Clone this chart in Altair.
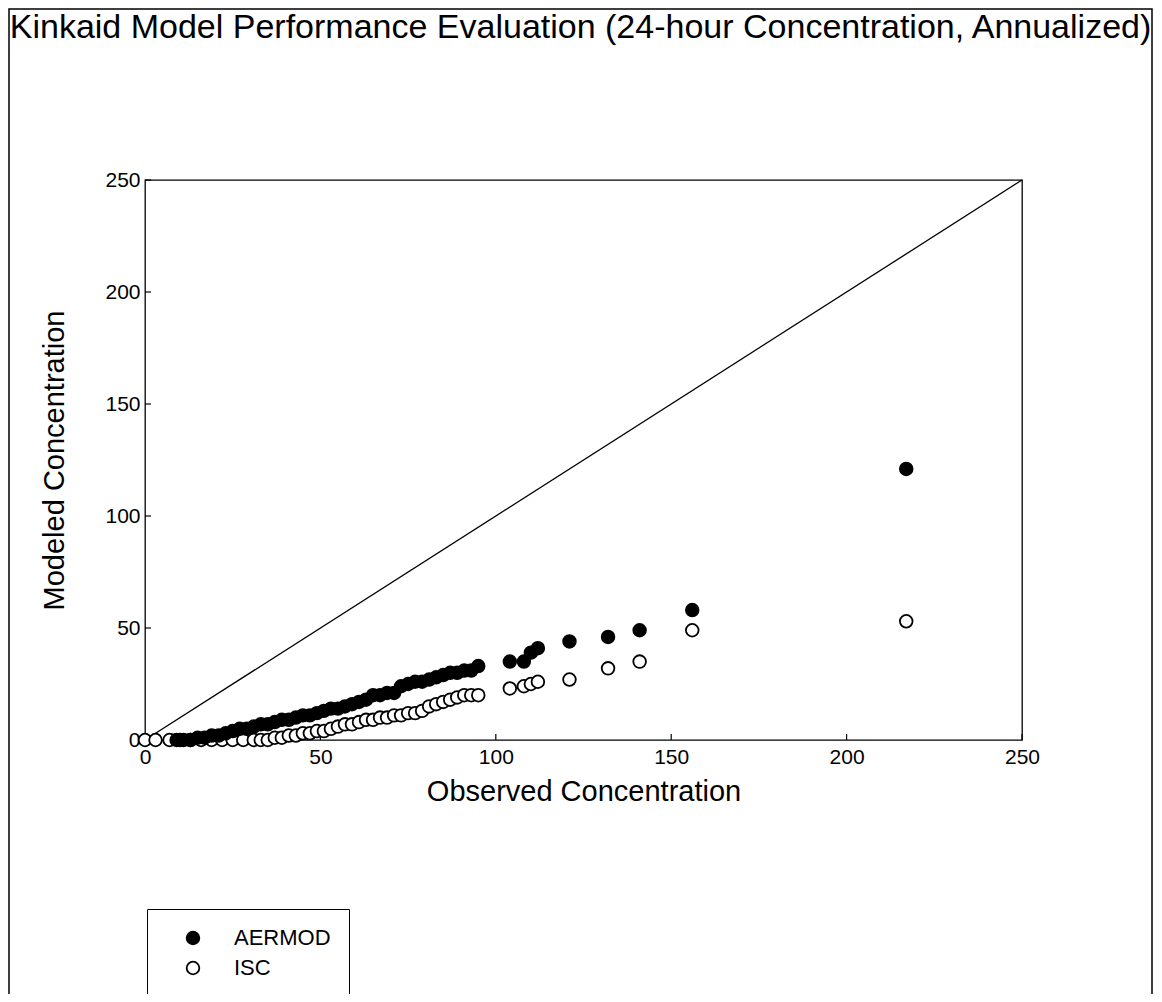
import altair as alt
import pandas as pd

# ---- data (ranked pairs) ----
aermod_obs = [9, 11, 13, 15, 17, 19, 21, 23, 25, 27, 29, 31, 33, 35, 37, 39, 41, 43, 45, 47,
              49, 51, 53, 55, 57, 59, 61, 63, 65, 67, 69, 71, 73, 75, 77, 79, 81, 83, 85, 87,
              89, 91, 93, 95, 104, 108, 110, 112, 121, 132, 141, 156, 217]
aermod_mod = [0, 0, 0, 1, 1, 2, 2, 3, 4, 5, 5, 6, 7, 7, 8, 9, 9, 10, 11, 11,
              12, 13, 14, 14, 15, 16, 17, 18, 20, 20, 21, 21, 24, 25, 26, 26, 27, 28, 29, 30,
              30, 31, 31, 33, 35, 35, 39, 41, 44, 46, 49, 58, 121]
isc_obs = [0, 3, 7, 10, 13, 16, 19, 22, 25, 28, 31, 33, 35, 37, 39, 41, 43, 45, 47, 49,
           51, 53, 55, 57, 59, 61, 63, 65, 67, 69, 71, 73, 75, 77, 79, 81, 83, 85, 87, 89,
           91, 93, 95, 104, 108, 110, 112, 121, 132, 141, 156, 217]
isc_mod = [0, 0, 0, 0, 0, 0, 0, 0, 0, 0, 0, 0, 0, 1, 1, 2, 2, 3, 3, 4,
           4, 5, 6, 7, 7, 8, 9, 9, 10, 10, 11, 11, 12, 12, 13, 15, 16, 17, 18, 19,
           20, 20, 20, 23, 24, 25, 26, 27, 32, 35, 49, 53]
series_names = ["AERMOD", "ISC"]
tick_values = [0, 50, 100, 150, 200, 250]
diag_values = [0, 250]

df = pd.concat([
    pd.DataFrame({"obs": isc_obs, "mod": isc_mod, "series": "ISC"}),
    pd.DataFrame({"obs": aermod_obs, "mod": aermod_mod, "series": "AERMOD"}),
], ignore_index=True)

W, H = 877, 560
FONT = "Liberation Sans"
xs = alt.Scale(domain=[0, 250], nice=False)
ys = alt.Scale(domain=[0, 250], nice=False)

xaxis = alt.Axis(values=tick_values, labelFontSize=21, labelPadding=6, titleFontSize=29,
                 titlePadding=10, titleFontWeight="normal", labelFlush=False)
yaxis = alt.Axis(values=tick_values, labelFontSize=21, labelPadding=5, titleFontSize=29,
                 titlePadding=35, titleFontWeight="normal", labelFlush=False)
XENC = alt.X("obs:Q", scale=xs, title="Observed Concentration", axis=xaxis)
YENC = alt.Y("mod:Q", scale=ys, title="Modeled Concentration", axis=yaxis)

frame = alt.Chart(pd.DataFrame({"a": [0]})).mark_rect(
    fillOpacity=0, stroke="black", strokeWidth=1.5
).encode(x=alt.value(-136), x2=alt.value(1007), y=alt.value(-171), y2=alt.value(830))

diag = alt.Chart(pd.DataFrame({"obs": diag_values, "mod": diag_values})).mark_line(
    color="black", strokeWidth=1.3
).encode(x=XENC, y=YENC)

xticks = alt.Chart(pd.DataFrame({"obs": tick_values})).mark_rule(
    color="black", strokeWidth=1.2
).encode(x=XENC, y=alt.value(H), y2=alt.value(H - 6))
yticks = alt.Chart(pd.DataFrame({"mod": tick_values})).mark_rule(
    color="black", strokeWidth=1.2
).encode(y=YENC, x=alt.value(0), x2=alt.value(6))

points = alt.Chart(df).mark_point(
    filled=True, size=160, stroke="black", strokeWidth=1.8, opacity=1, shape="circle"
).encode(
    x=XENC,
    y=YENC,
    fill=alt.Fill("series:N", scale=alt.Scale(domain=series_names, range=["black", "white"]),
                  legend=alt.Legend(title=None, orient="none", legendX=2, legendY=729,
                                    strokeColor="black", padding=18, symbolOffset=17,
                                    labelOffset=30, rowPadding=8, symbolSize=160,
                                    symbolType="circle", symbolStrokeColor="black",
                                    symbolStrokeWidth=1.8, labelFontSize=22,
                                    labelFont=FONT, labelColor="black")),
)

chart = alt.layer(frame, diag, xticks, yticks, points).properties(
    width=W, height=H,
    background="white",
    title=alt.Title("Kinkaid Model Performance Evaluation (24-hour Concentration, Annualized)",
                    fontSize=34, font=FONT, fontWeight="normal", color="black",
                    anchor="middle", frame="group", offset=-37, dx=-3),
    padding={"left": 137, "top": 172, "right": 132, "bottom": 254},
    autosize=alt.AutoSizeParams(type="none"),
).configure_view(stroke="black", strokeWidth=1.3).configure_axis(
    domain=False, grid=False, ticks=False, labelFont=FONT, titleFont=FONT,
    labelColor="black", titleColor="black"
)

chart.save("out.html", embed_options={"renderer": "svg", "actions": False})
